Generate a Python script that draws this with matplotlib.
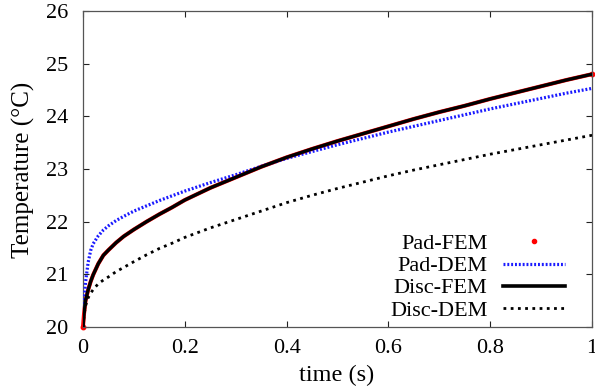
import matplotlib
matplotlib.use("Agg")
import matplotlib.pyplot as plt
from matplotlib.lines import Line2D

plt.rcParams['font.family'] = ['Liberation Serif', 'DejaVu Serif']

# time samples (s)
time = [0.0, 0.002, 0.005, 0.01, 0.015, 0.02, 0.03, 0.04, 0.05, 0.065,
        0.08, 0.1, 0.125, 0.15, 0.175, 0.2, 0.25, 0.3, 0.35, 0.4,
        0.45, 0.5, 0.55, 0.6, 0.65, 0.7, 0.75, 0.8, 0.85, 0.9,
        0.95, 1.0]

# temperatures (°C)
pad_fem = [20.0, 20.25, 20.5, 20.7, 20.86, 20.99, 21.2, 21.36, 21.46, 21.6,
           21.72, 21.85, 22.0, 22.14, 22.27, 22.41, 22.64, 22.84, 23.04, 23.22,
           23.38, 23.53, 23.67, 23.81, 23.95, 24.08, 24.2, 24.33, 24.45, 24.57,
           24.69, 24.8]
pad_dem = [20.0, 20.45, 20.85, 21.22, 21.45, 21.58, 21.73, 21.84, 21.92, 22.02,
           22.1, 22.2, 22.3, 22.4, 22.49, 22.58, 22.74, 22.89, 23.05, 23.2,
           23.33, 23.46, 23.58, 23.7, 23.81, 23.92, 24.03, 24.14, 24.24, 24.34,
           24.44, 24.53]
disc_fem = [20.0, 20.25, 20.5, 20.7, 20.86, 20.99, 21.2, 21.36, 21.46, 21.6,
            21.72, 21.85, 22.0, 22.14, 22.27, 22.41, 22.64, 22.84, 23.04, 23.22,
            23.38, 23.53, 23.67, 23.81, 23.95, 24.08, 24.2, 24.33, 24.45, 24.57,
            24.69, 24.8]
disc_dem = [20.0, 20.22, 20.4, 20.55, 20.64, 20.71, 20.82, 20.89, 20.95, 21.05,
            21.13, 21.24, 21.37, 21.49, 21.59, 21.7, 21.88, 22.04, 22.2, 22.36,
            22.5, 22.63, 22.75, 22.87, 22.98, 23.08, 23.18, 23.28, 23.37, 23.46,
            23.55, 23.64]

labels = ["Pad-FEM", "Pad-DEM", "Disc-FEM", "Disc-DEM"]
xticks = [0, 0.2, 0.4, 0.6, 0.8, 1]
xticklabels = ["0", "0.2", "0.4", "0.6", "0.8", "1"]
yticks = [20, 21, 22, 23, 24, 25, 26]

FS = 16

fig = plt.figure(figsize=(5.95, 3.92), dpi=100)
ax = fig.add_axes([0.1395, 0.166, 0.8555, 0.806])

# Pad-FEM: red trace just wider than the black Disc-FEM line, points at the ends
ax.plot(time, pad_fem, color='red', lw=2.9, solid_capstyle='butt', zorder=2,
        marker='o', ms=3.2, markevery=[0, len(time) - 1], clip_on=False)
ax.plot(time, pad_dem, color='#1a1aff', lw=2.3, dashes=(0.6, 0.6), zorder=3)
ax.plot(time, disc_fem, color='black', lw=2.4, zorder=4)
ax.plot(time, disc_dem, color='black', lw=2.0, dashes=(1.0, 1.6), zorder=3)

ax.set_xlim(0, 1)
ax.set_ylim(20, 26)
ax.set_xticks(xticks)
ax.set_xticklabels(xticklabels)
ax.set_yticks(yticks)
ax.tick_params(direction='in', top=True, right=True, length=4, width=0.8,
               labelsize=FS, colors='#222222', labelcolor='black')
ax.tick_params(axis='x', pad=8.5)
ax.tick_params(axis='y', pad=10.5)
for s in ax.spines.values():
    s.set_color('#555555')
    s.set_linewidth(0.9)

fig.text(336.5 / 595, 1 - 375 / 392, "time (s)", fontsize=17.5,
         ha='center', va='center')
fig.text(23 / 595, 1 - 170 / 392, "Temperature (°C)", fontsize=18,
         rotation=90, ha='center', va='center')

handles = [
    Line2D([], [], ls='none', marker='o', ms=3, color='red'),
    Line2D([], [], color='#1a1aff', lw=2.3, dashes=(0.6, 0.6)),
    Line2D([], [], color='black', lw=2.6),
    Line2D([], [], color='black', lw=2.0, dashes=(1.0, 1.6)),
]
ax.legend(handles, labels, loc='lower right', bbox_to_anchor=(0.947, 0.02),
          frameon=False, markerfirst=False, fontsize=FS, handlelength=2.8,
          handletextpad=0.7, labelspacing=0.07, borderpad=0, borderaxespad=0)

fig.savefig("out.png", dpi=100)
